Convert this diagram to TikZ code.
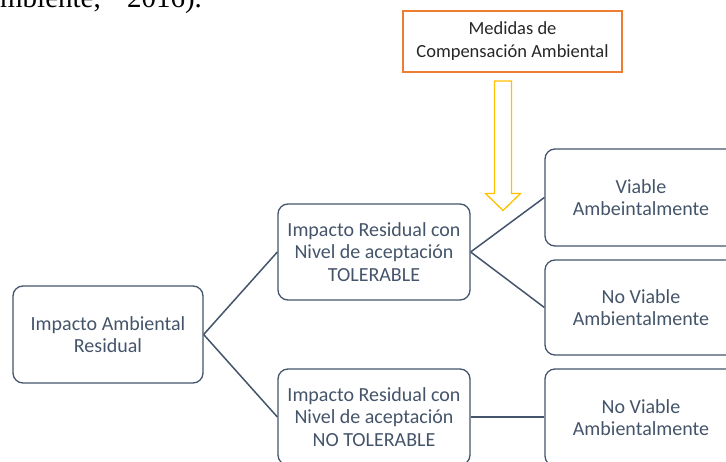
\documentclass[tikz,border=0pt]{standalone}
\usepackage{fontspec}
\setmainfont{Carlito}
\newfontfamily\timesfont{Liberation Serif}
\definecolor{txtblue}{HTML}{44546A}
\definecolor{orng}{HTML}{ED7D31}
\definecolor{ylw}{HTML}{FFC000}
\definecolor{dark}{HTML}{262626}
\begin{document}
\begin{tikzpicture}[x=1pt,y=-1pt,
  box/.style={draw=txtblue, line width=1.3pt, rounded corners=10pt,
    minimum width=192pt, minimum height=96pt, align=center, text=txtblue,
    font=\fontsize{20}{22.5}\selectfont, inner sep=0pt},
  obox/.style={draw=orng, line width=1.2pt, minimum width=219pt, minimum height=61pt,
    align=center, text=dark, font=\fontsize{18.5}{23}\selectfont, inner sep=0pt},
  link/.style={draw=txtblue, line width=1.5pt},
  hollowarrow/.style={draw=ylw, line width=1.3pt, line join=miter}]
\useasboundingbox (0,0) rectangle (726,462);
\clip (0,0) rectangle (726,462);
\node[anchor=base west, font=\timesfont\fontsize{29}{34}\selectfont, inner sep=0pt] (cite) at (-21,8) {Ambiente,\hspace{19pt} 2016).};
\node[obox] (M) at (512.5,41.5) {Medidas de\\Compensación Ambiental};
\node[box, minimum width=190pt, minimum height=97pt] (A) at (108,334.5) {Impacto Ambiental\\Residual};
\node[box] (B) at (374,252) {Impacto Residual con\\Nivel de aceptación\\TOLERABLE};
\node[box] (C) at (374,417) {Impacto Residual con\\Nivel de aceptación\\NO TOLERABLE};
\node[box, minimum height=97pt] (D) at (641,197.5) {Viable\\Ambeintalmente};
\node[box, minimum height=95pt] (E) at (641,307.5) {No Viable\\Ambientalmente};
\node[box, minimum height=97pt] (F) at (641,417.5) {No Viable\\Ambientalmente};
\draw[link] (A.east) -- (B.west);
\draw[link] (A.east) -- (C.west);
\draw[link] (B.east) -- (D.west);
\draw[link] (B.east) -- (E.west);
\draw[link] (C.east) -- (C.east -| F.west);
\draw[hollowarrow] (494.5,81) -- (511.5,81) -- (511.5,193.5) -- (520.5,193.5)
  -- (503,210.5) -- (485.5,193.5) -- (494.5,193.5) -- cycle;
\end{tikzpicture}
\end{document}
